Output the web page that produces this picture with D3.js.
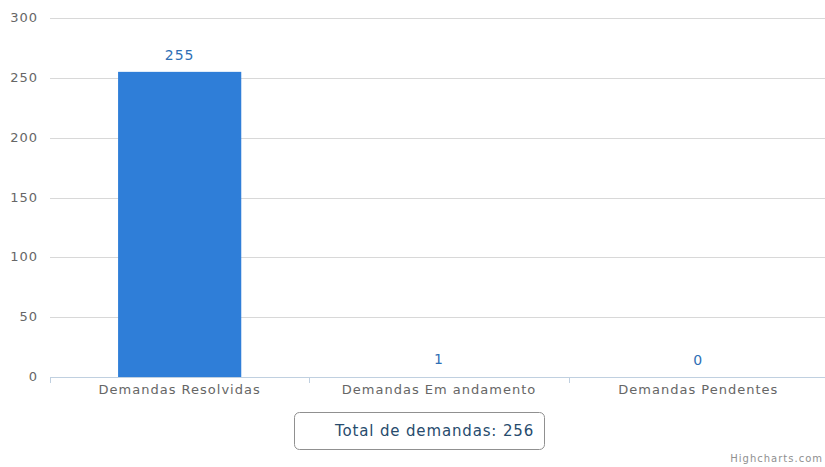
<!DOCTYPE html>
<html>
<head>
<meta charset="utf-8">
<script src="https://cdn.jsdelivr.net/npm/d3@7"></script>
<style>
  body { margin: 0; background: #fff; }
  text { font-family: "DejaVu Sans", Verdana, sans-serif; }
</style>
</head>
<body>
<script>
const categories = ["Demandas Resolvidas", "Demandas Em andamento", "Demandas Pendentes"];
const values = [255, 1, 0];
const yTicks = [0, 50, 100, 150, 200, 250, 300];
const legendLabel = "Total de demandas: 256";

const width = 825, height = 467;
const margin = {top: 18, right: -3, bottom: 90, left: 50};

const svg = d3.select("body").append("svg")
    .attr("width", width)
    .attr("height", height);

const x = d3.scaleBand()
    .domain(categories)
    .range([margin.left, width - margin.right])
    .paddingInner(0)
    .paddingOuter(0);

const y = d3.scaleLinear()
    .domain([0, 300])
    .range([height - margin.bottom, margin.top]);

// grid lines
svg.append("g")
  .selectAll("line")
  .data(yTicks.filter(d => d > 0))
  .join("line")
    .attr("x1", margin.left)
    .attr("x2", width)
    .attr("y1", d => Math.round(y(d)) + 0.5)
    .attr("y2", d => Math.round(y(d)) + 0.5)
    .attr("stroke", "#d8d8d8")
    .attr("stroke-width", 1);

// y labels
svg.append("g")
  .selectAll("text")
  .data(yTicks)
  .join("text")
    .attr("x", 38)
    .attr("y", d => y(d) + 4)
    .attr("text-anchor", "end")
    .attr("fill", "#666")
    .attr("font-size", 13)
    .attr("letter-spacing", 1)
    .text(d => d);

// bars
const barW = x.bandwidth() * 0.475;
svg.append("g")
  .selectAll("rect")
  .data(values)
  .join("rect")
    .attr("x", (d, i) => x(categories[i]) + (x.bandwidth() - barW) / 2)
    .attr("y", d => y(d))
    .attr("width", barW)
    .attr("height", d => y(0) - y(d))
    .attr("fill", "#2f7ed8");

// x axis line + ticks (drawn over the bars, hides the 1-unit bar)
const x0 = Math.round(y(0));
const xAxis = svg.append("g");
xAxis.append("rect")
    .attr("x", x(categories[1])).attr("width", x.bandwidth())
    .attr("y", x0 - 2).attr("height", 2)
    .attr("fill", "#fff");
xAxis.append("line")
    .attr("x1", margin.left).attr("x2", width)
    .attr("y1", x0 + 0.5).attr("y2", x0 + 0.5)
    .attr("stroke", "#c0d0e0");
xAxis.selectAll("line.tick")
  .data(categories.map(c => x(c)).concat([x.range()[1]]))
  .join("line")
    .attr("class", "tick")
    .attr("x1", d => Math.round(d) + 0.5)
    .attr("x2", d => Math.round(d) + 0.5)
    .attr("y1", x0)
    .attr("y2", x0 + 6)
    .attr("stroke", "#c0d0e0");
xAxis.selectAll("text")
  .data(categories)
  .join("text")
    .attr("x", d => x(d) + x.bandwidth() / 2)
    .attr("y", y(0) + 17)
    .attr("text-anchor", "middle")
    .attr("fill", "#666")
    .attr("font-size", 13)
    .attr("letter-spacing", 1)
    .text(d => d);

// data labels
svg.append("g")
  .selectAll("text")
  .data(values)
  .join("text")
    .attr("x", (d, i) => x(categories[i]) + x.bandwidth() / 2)
    .attr("y", d => y(d) - 12)
    .attr("text-anchor", "middle")
    .attr("fill", "#2f6fb5")
    .attr("font-size", 14)
    .attr("letter-spacing", 1)
    .text(d => d);

// legend
const legend = svg.append("g");
legend.append("rect")
    .attr("x", 294.5).attr("y", 412.5)
    .attr("width", 250).attr("height", 37)
    .attr("rx", 5)
    .attr("fill", "#fff")
    .attr("stroke", "#909090");
legend.append("text")
    .attr("x", 335)
    .attr("y", 436)
    .attr("fill", "#274b6d")
    .attr("font-size", 15)
    .attr("letter-spacing", 0.85)
    .text(legendLabel);

// credits
svg.append("text")
    .attr("x", 823)
    .attr("y", 462)
    .attr("text-anchor", "end")
    .attr("fill", "#909090")
    .attr("font-size", 10)
    .attr("letter-spacing", 1)
    .text("Highcharts.com");
</script>
</body>
</html>
